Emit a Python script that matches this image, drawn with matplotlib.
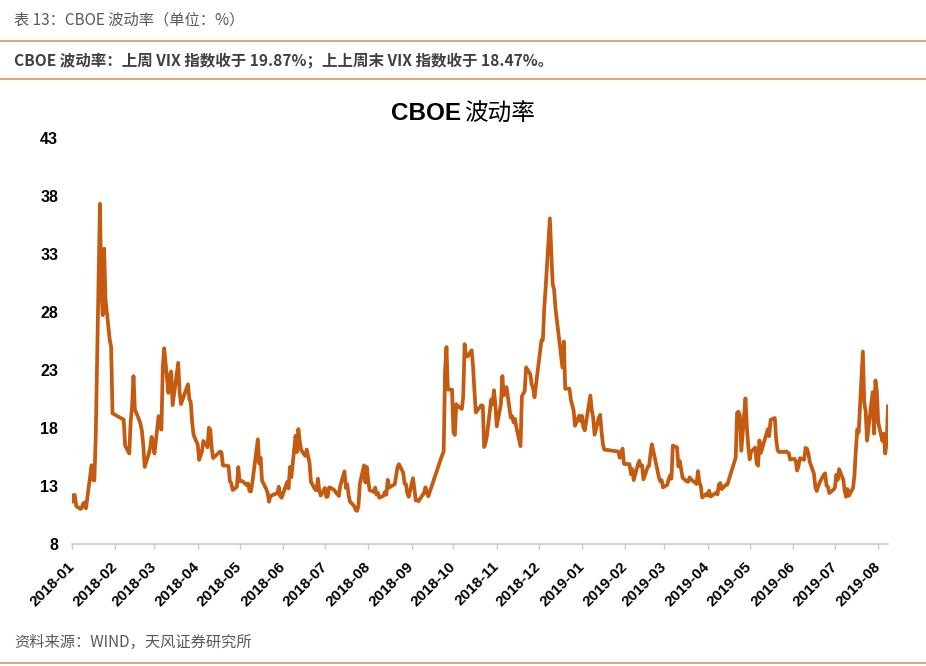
import matplotlib
matplotlib.use("Agg")
import matplotlib.pyplot as plt
import matplotlib.dates as mdates
import pandas as pd

# VIX daily close, Wind series (China trading calendar, long CN holidays absent)
dates_2018 = [
    "01-16", "01-17", "01-18", "01-19", "01-22", "01-23", "01-24", "01-25", "01-26", "01-29", "01-30", "01-31",
    "02-01", "02-02", "02-05", "02-06", "02-07", "02-08", "02-09", "02-12", "02-13", "02-14", "02-22", "02-23", "02-26", "02-27", "02-28",
    "03-01", "03-02", "03-05", "03-06", "03-07", "03-08", "03-09", "03-12", "03-13", "03-14", "03-15", "03-16", "03-19", "03-20", "03-21", "03-22", "03-23", "03-26", "03-27", "03-28", "03-29",
    "04-02", "04-03", "04-04", "04-09", "04-10", "04-11", "04-12", "04-13", "04-16", "04-17", "04-18", "04-19", "04-20", "04-23", "04-24", "04-25", "04-26", "04-27",
    "05-02", "05-03", "05-04", "05-07", "05-08", "05-09", "05-10", "05-11", "05-14", "05-15", "05-16", "05-17", "05-18", "05-21", "05-22", "05-23", "05-24", "05-25", "05-29", "05-30", "05-31",
    "06-01", "06-04", "06-05", "06-06", "06-07", "06-08", "06-11", "06-12", "06-13", "06-14", "06-15", "06-19", "06-20", "06-21", "06-22", "06-25", "06-26", "06-27", "06-28", "06-29",
    "07-02", "07-03", "07-05", "07-06", "07-09", "07-10", "07-11", "07-12", "07-13", "07-16", "07-17", "07-18", "07-19", "07-20", "07-23", "07-24", "07-25", "07-26", "07-27", "07-30", "07-31",
    "08-01", "08-02", "08-03", "08-06", "08-07", "08-08", "08-09", "08-10", "08-13", "08-14", "08-15", "08-16", "08-17", "08-20", "08-21", "08-22", "08-23", "08-24", "08-27", "08-28", "08-29", "08-30", "08-31",
    "09-04", "09-05", "09-06", "09-07", "09-10", "09-11", "09-12", "09-13", "09-14", "09-17", "09-18", "09-19", "09-20", "09-21", "09-25", "09-26", "09-27", "09-28",
    "10-08", "10-09", "10-10", "10-11", "10-12", "10-15", "10-16", "10-17", "10-18", "10-19", "10-22", "10-23", "10-24", "10-25", "10-26", "10-29", "10-30", "10-31",
    "11-01", "11-02", "11-05", "11-06", "11-07", "11-08", "11-09", "11-12", "11-13", "11-14", "11-15", "11-16", "11-19", "11-20", "11-21", "11-23", "11-26", "11-27", "11-28", "11-29", "11-30",
    "12-03", "12-04", "12-06", "12-07", "12-10", "12-11", "12-12", "12-13", "12-14", "12-17", "12-18", "12-19", "12-20", "12-21", "12-24", "12-26", "12-27", "12-28",
]
vix_2018 = [
    11.66, 12.22, 12.22, 11.27, 11.03, 11.10, 11.47, 11.58, 11.08, 13.84, 14.79, 13.54,
    13.47, 17.31, 37.32, 29.98, 27.73, 33.46, 29.06, 25.61, 24.97, 19.26, 18.72, 16.49, 15.80, 18.59, 19.85,
    22.47, 19.59, 18.73, 18.36, 17.76, 16.54, 14.64, 15.78, 16.35, 17.23, 16.59, 15.80, 19.02, 18.20, 17.86, 23.34, 24.87, 21.03, 22.50, 22.87, 19.97,
    23.62, 21.10, 20.06, 21.77, 20.47, 20.24, 18.49, 17.41, 16.56, 15.25, 15.60, 15.96, 16.88, 16.34, 18.02, 17.84, 16.24, 15.41,
    15.97, 15.90, 14.77, 14.75, 14.71, 13.42, 13.23, 12.65, 12.93, 14.63, 13.42, 13.43, 13.42, 13.08, 13.22, 12.58, 12.53, 13.22, 17.02, 14.94, 15.43,
    13.46, 12.74, 12.40, 11.64, 12.13, 12.18, 12.35, 12.34, 12.94, 12.12, 11.98, 13.35, 12.79, 14.64, 13.77, 17.33, 15.92, 17.91, 16.85, 16.09,
    15.60, 16.14, 14.97, 13.37, 12.69, 12.64, 13.63, 12.58, 12.18, 12.83, 12.06, 12.10, 12.87, 12.86, 12.62, 12.41, 12.29, 12.14, 13.03, 14.26, 12.83,
    13.15, 12.19, 11.64, 11.27, 10.93, 10.85, 11.27, 13.16, 14.78, 13.31, 14.64, 13.45, 12.64, 12.49, 12.86, 12.25, 12.41, 11.99, 12.16, 12.50, 12.25, 13.53, 12.86,
    13.16, 13.91, 14.65, 14.88, 14.16, 13.22, 13.14, 12.37, 12.07, 13.68, 12.79, 11.75, 11.80, 11.68, 12.42, 12.89, 12.41, 12.12,
    15.69, 15.95, 22.96, 24.98, 21.31, 21.30, 17.62, 17.40, 20.06, 19.89, 19.64, 20.71, 25.23, 24.22, 24.16, 24.70, 23.35, 21.23,
    19.34, 19.51, 19.96, 19.91, 16.36, 16.72, 17.36, 20.45, 20.02, 21.25, 19.98, 18.14, 20.10, 22.48, 20.80, 21.52, 18.90, 19.02, 18.49, 18.79, 18.07,
    16.44, 20.74, 21.19, 23.23, 22.64, 21.76, 21.46, 20.65, 21.63, 24.52, 25.58, 25.58, 28.38, 30.11, 36.07, 30.41, 29.96, 28.34,
]
dates_2019 = [
    "01-02", "01-03", "01-04", "01-07", "01-08", "01-09", "01-10", "01-11", "01-14", "01-15", "01-16", "01-17", "01-18", "01-22", "01-23", "01-24", "01-25", "01-28", "01-29", "01-30", "01-31",
    "02-01", "02-11", "02-12", "02-13", "02-14", "02-15", "02-19", "02-20", "02-21", "02-22", "02-25", "02-26", "02-27", "02-28",
    "03-01", "03-04", "03-05", "03-06", "03-07", "03-08", "03-11", "03-12", "03-13", "03-14", "03-15", "03-18", "03-19", "03-20", "03-21", "03-22", "03-25", "03-26", "03-27", "03-28", "03-29",
    "04-01", "04-02", "04-03", "04-04", "04-08", "04-09", "04-10", "04-11", "04-12", "04-15", "04-16", "04-17", "04-18", "04-22", "04-23", "04-24", "04-25", "04-26", "04-29", "04-30",
    "05-06", "05-07", "05-08", "05-09", "05-10", "05-13", "05-14", "05-15", "05-16", "05-17", "05-20", "05-21", "05-22", "05-23", "05-24", "05-28", "05-29", "05-30", "05-31",
    "06-03", "06-04", "06-05", "06-06", "06-10", "06-11", "06-12", "06-13", "06-14", "06-17", "06-18", "06-19", "06-20", "06-21", "06-24", "06-25", "06-26", "06-27", "06-28",
    "07-01", "07-02", "07-03", "07-05", "07-08", "07-09", "07-10", "07-11", "07-12", "07-15", "07-16", "07-17", "07-18", "07-19", "07-22", "07-23", "07-24", "07-25", "07-26", "07-29", "07-30", "07-31",
    "08-01", "08-02", "08-05", "08-06", "08-07", "08-08", "08-09", "08-12", "08-13", "08-14", "08-15", "08-16", "08-19", "08-20", "08-21", "08-22", "08-23",
]
vix_2019 = [
    23.22, 25.45, 21.38, 21.40, 20.47, 19.98, 19.50, 18.19, 19.07, 18.60, 19.04, 18.06, 17.80, 20.80, 19.52, 18.89, 17.42, 18.87, 19.13, 17.66, 16.57,
    16.14, 15.97, 15.43, 15.65, 16.22, 14.91, 14.88, 14.02, 14.46, 13.51, 14.85, 15.17, 14.70, 14.78,
    13.57, 14.63, 14.74, 15.74, 16.59, 16.05, 14.33, 13.77, 13.41, 13.50, 12.88, 13.10, 13.56, 13.91, 13.63, 16.48, 16.33, 14.68, 15.15, 14.43, 13.71,
    13.40, 13.36, 13.74, 13.58, 13.18, 14.28, 13.30, 13.02, 12.01, 12.32, 12.18, 12.60, 12.09, 12.42, 12.28, 13.14, 13.25, 12.73, 13.11, 13.12,
    15.44, 19.32, 19.40, 19.10, 16.04, 20.55, 18.06, 16.44, 15.29, 15.96, 16.31, 14.95, 14.75, 16.92, 15.85, 17.50, 17.90, 17.30, 18.71,
    18.86, 16.97, 16.09, 15.93, 15.94, 15.99, 15.91, 15.82, 15.28, 15.35, 15.15, 14.33, 14.75, 15.40, 15.26, 16.28, 16.21, 15.82, 15.08,
    14.06, 12.93, 12.57, 13.28, 13.96, 14.09, 13.03, 12.93, 12.39, 12.68, 12.86, 13.97, 13.53, 14.45, 13.53, 12.61, 12.07, 12.74, 12.16, 12.83, 13.94, 16.12,
    17.87, 17.61, 24.59, 20.17, 19.49, 16.91, 17.97, 21.09, 17.52, 22.10, 21.18, 18.47, 16.88, 17.50, 15.80, 16.68, 19.87,
]

# Excel date axis: monthly ticks counted from the first date, shown as yyyy-mm
tick_labels = ["2018-01", "2018-02", "2018-03", "2018-04", "2018-05", "2018-06", "2018-07",
               "2018-08", "2018-09", "2018-10", "2018-11", "2018-12", "2019-01", "2019-02",
               "2019-03", "2019-04", "2019-05", "2019-06", "2019-07", "2019-08"]
y_ticks = [8, 13, 18, 23, 28, 33, 38, 43]

assert len(dates_2018) == len(vix_2018) and len(dates_2019) == len(vix_2019)
dates = pd.to_datetime(["2018-" + d for d in dates_2018] + ["2019-" + d for d in dates_2019])
vix = vix_2018 + vix_2019

LATIN_CJK = ["Liberation Sans", "Noto Sans CJK SC"]
CJK = ["Noto Sans CJK SC", "DejaVu Sans"]
ORANGE_RULE = "#DDA062"
GREY_TEXT = "#595959"

fig = plt.figure(figsize=(9.26, 6.66), dpi=100)
W, H = 926, 666

# header / footer of the report page
fig.text(14 / W, 1 - 20 / H, "表 13：CBOE 波动率（单位：%）", family=CJK, fontsize=11,
         color=GREY_TEXT, va="center", ha="left")
fig.text(14 / W, 1 - 60 / H, "CBOE 波动率：上周 VIX 指数收于 19.87%；上上周末 VIX 指数收于 18.47%。",
         family=CJK, fontsize=11.2, fontweight="bold", color="#404040", va="center", ha="left")
fig.text(14 / W, 1 - 642 / H, "资料来源：WIND，天风证券研究所", family=CJK, fontsize=11,
         color=GREY_TEXT, va="center", ha="left")
for y in (41, 79, 663):
    fig.add_artist(plt.Line2D([0, 1], [1 - y / H, 1 - y / H], color=ORANGE_RULE, lw=1.3,
                              transform=fig.transFigure))

# chart title: bold Latin part + CJK part
fig.text(461 / W, 1 - 114 / H, "CBOE", family=LATIN_CJK, fontsize=17.5, fontweight="bold",
         color="black", va="center", ha="right")
fig.text(464 / W, 1 - 114 / H, "波动率", family=CJK, fontsize=17, color="black",
         va="center", ha="left")

ax = fig.add_axes([72 / W, 1 - 544 / H, (888 - 72) / W, (544 - 138) / H])
ax.plot(dates, vix, color="#C55A11", lw=2.7, solid_joinstyle="round")

ax.set_xlim(pd.Timestamp("2018-01-16"), pd.Timestamp("2019-08-23"))
ax.set_ylim(8, 43)
ax.set_yticks(y_ticks)
ax.set_yticklabels([str(v) for v in y_ticks], family=LATIN_CJK, fontsize=11.5, fontweight="bold")

tick_dates = pd.date_range("2018-01-16", periods=len(tick_labels), freq=pd.DateOffset(months=1))
ax.set_xticks(mdates.date2num(tick_dates))
ax.set_xticklabels(tick_labels, family=LATIN_CJK, fontsize=11, fontweight="bold",
                   rotation=45, ha="right", va="center", rotation_mode="anchor")

for side in ("left", "right", "top"):
    ax.spines[side].set_visible(False)
ax.spines["bottom"].set_color("#C8C8C8")
ax.spines["bottom"].set_linewidth(1.2)
ax.tick_params(axis="y", length=0, pad=10)
ax.tick_params(axis="x", length=3.5, width=1, color="#C8C8C8", direction="out", pad=11)

fig.savefig("out.png", dpi=100)
